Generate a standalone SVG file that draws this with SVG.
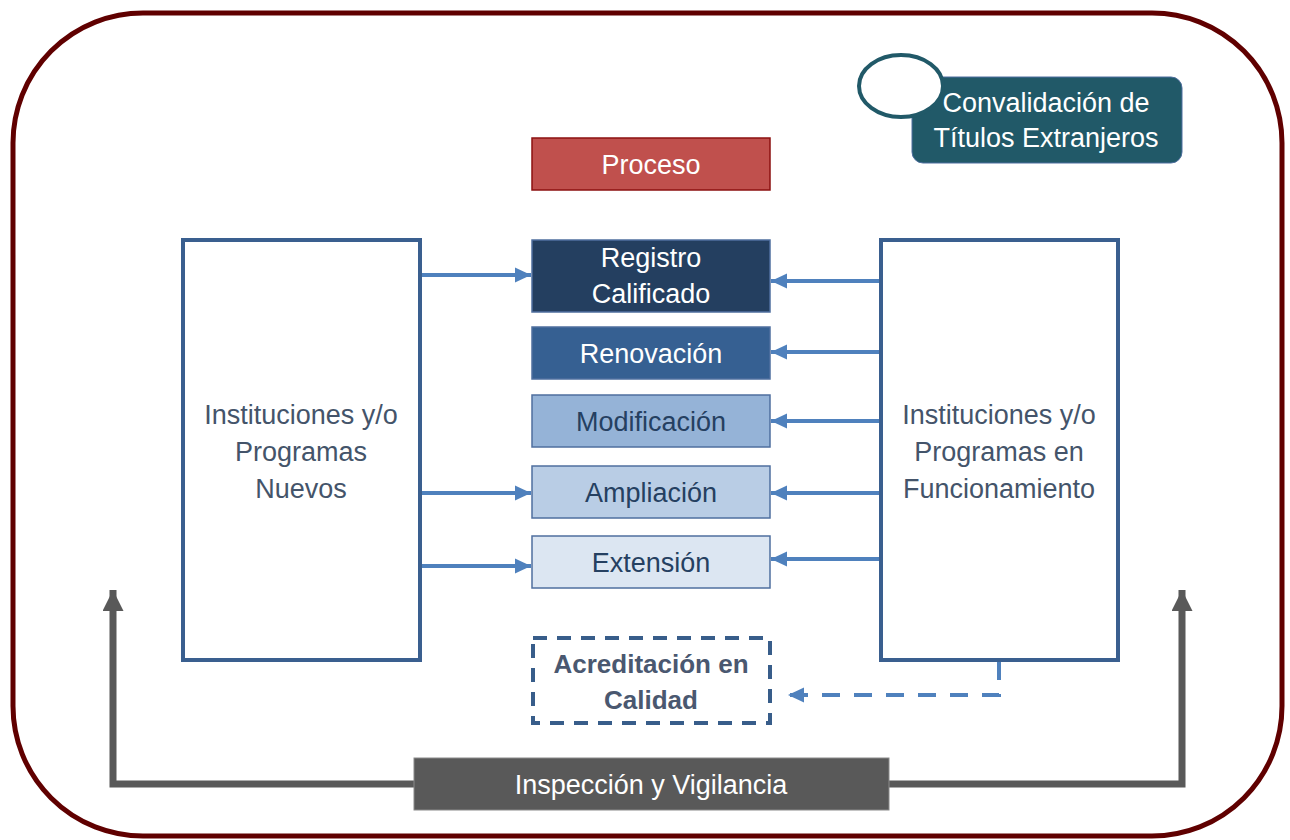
<svg xmlns="http://www.w3.org/2000/svg" width="1290" height="840" viewBox="0 0 1290 840">
<defs>
<style>
text{font-family:"Liberation Sans",Arial,sans-serif;font-size:27px;text-anchor:middle}
.w{fill:#ffffff}
.d{fill:#254061}
.g{fill:#44546A}
.b{fill:#4A5870;font-weight:bold;font-size:26px}
.box{stroke:#4F6F9F;stroke-width:1.5}
.big{fill:#ffffff;stroke:#3A5F8F;stroke-width:4}
.blue{stroke:#4F81BD;stroke-width:4;fill:none}
.gray{stroke:#595959;stroke-width:7;fill:none}
</style>
<marker id="ab" markerWidth="5" markerHeight="5" refX="4" refY="2.5" orient="auto" markerUnits="strokeWidth"><path d="M0,0.6 L4,2.5 L0,4.4 Z" fill="#4F81BD"/></marker>
<marker id="ag" markerWidth="4" markerHeight="4" refX="3" refY="1.5" orient="auto" markerUnits="strokeWidth"><path d="M0,0 L3,1.5 L0,3 Z" fill="#595959"/></marker>
</defs>
<rect x="13" y="13" width="1269" height="823" rx="130" fill="#ffffff" stroke="#600000" stroke-width="5"/>

<g id="connectors">
<line class="blue" x1="422" y1="275" x2="531" y2="275" marker-end="url(#ab)"/>
<line class="blue" x1="422" y1="493" x2="531" y2="493" marker-end="url(#ab)"/>
<line class="blue" x1="422" y1="566" x2="531" y2="566" marker-end="url(#ab)"/>
<line class="blue" x1="880" y1="281" x2="771" y2="281" marker-end="url(#ab)"/>
<line class="blue" x1="880" y1="352" x2="771" y2="352" marker-end="url(#ab)"/>
<line class="blue" x1="880" y1="421" x2="771" y2="421" marker-end="url(#ab)"/>
<line class="blue" x1="880" y1="493" x2="771" y2="493" marker-end="url(#ab)"/>
<line class="blue" x1="880" y1="559" x2="771" y2="559" marker-end="url(#ab)"/>
<path class="blue" d="M999,662 V695 H788" stroke-dasharray="18,14" marker-end="url(#ab)"/>
<path class="gray" d="M414,784 H113 V590" marker-end="url(#ag)"/>
<path class="gray" d="M889,784 H1182 V590" marker-end="url(#ag)"/>
</g>

<g id="convalidacion">
<rect x="912" y="77" width="270" height="86" rx="11" fill="#215968" stroke="#4F6F9F" stroke-width="1"/>
<ellipse cx="901" cy="86" rx="42" ry="31" fill="#ffffff" stroke="#215968" stroke-width="4"/>
<text class="w" x="1046" y="112">Convalidación de</text>
<text class="w" x="1046" y="147">Títulos Extranjeros</text>
</g>

<g id="proceso">
<rect x="532" y="138" width="238" height="52" fill="#C0504D" stroke="#8C1010" stroke-width="1.5"/>
<text class="w" x="651" y="174">Proceso</text>
</g>

<g id="registro">
<rect class="box" x="532" y="240" width="238" height="72" fill="#243F60"/>
<text class="w" x="651" y="267">Registro</text>
<text class="w" x="651" y="303">Calificado</text>
</g>

<g id="renovacion">
<rect class="box" x="532" y="327" width="238" height="52" fill="#366092"/>
<text class="w" x="651" y="363">Renovación</text>
</g>

<g id="modificacion">
<rect class="box" x="532" y="395" width="238" height="52" fill="#95B3D7"/>
<text class="d" x="651" y="431">Modificación</text>
</g>

<g id="ampliacion">
<rect class="box" x="532" y="466" width="238" height="52" fill="#B9CDE5"/>
<text class="d" x="651" y="502">Ampliación</text>
</g>

<g id="extension">
<rect class="box" x="532" y="536" width="238" height="52" fill="#DCE6F2"/>
<text class="d" x="651" y="572">Extensión</text>
</g>

<g id="nuevos">
<rect class="big" x="183" y="240" width="237" height="420"/>
<text class="g" x="301" y="424">Instituciones y/o</text>
<text class="g" x="301" y="461">Programas</text>
<text class="g" x="301" y="498">Nuevos</text>
</g>

<g id="funcionamiento">
<rect class="big" x="881" y="240" width="237" height="420"/>
<text class="g" x="999" y="424">Instituciones y/o</text>
<text class="g" x="999" y="461">Programas en</text>
<text class="g" x="999" y="498">Funcionamiento</text>
</g>

<g id="acreditacion">
<rect x="533" y="638" width="237" height="85" fill="#ffffff" stroke="#385D8A" stroke-width="4" stroke-dasharray="14,10"/>
<text class="b" x="651" y="673">Acreditación en</text>
<text class="b" x="651" y="709">Calidad</text>
</g>

<g id="inspeccion">
<rect x="414" y="758" width="475" height="52" fill="#595959" stroke="#8A8A8A" stroke-width="1"/>
<text class="w" x="651" y="794">Inspección y Vigilancia</text>
</g>
</svg>
